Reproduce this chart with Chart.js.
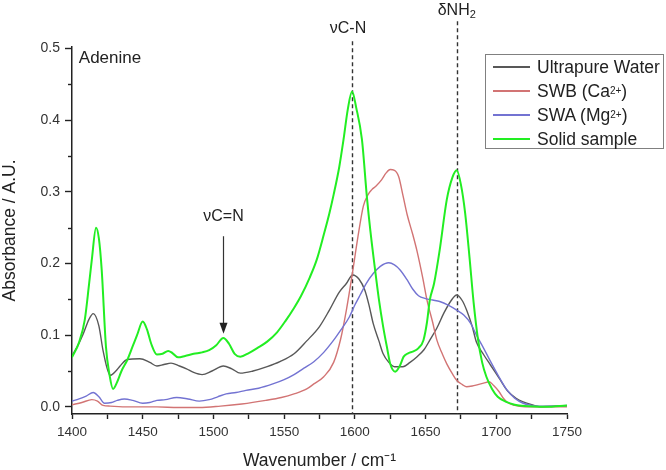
<!DOCTYPE html>
<html>
<head>
<meta charset="utf-8">
<script src="https://cdn.jsdelivr.net/npm/chart.js@4.4.1/dist/chart.umd.min.js"></script>
<style>
  html, body { margin: 0; padding: 0; background: #fff; }
  #wrap { position: relative; width: 666px; height: 470px; }
  #legend {
    position: absolute; left: 485px; top: 54px; width: 179px; height: 95px;
    box-sizing: border-box; border: 1px solid #808080; padding-top: 0;
    font-family: 'Liberation Sans', Arial, sans-serif; font-size: 17.5px; color: #222;
  }
  #legend .row { height: 24px; line-height: 24px; white-space: nowrap; display: flex; align-items: center; }
  #legend .swatch { display: inline-block; width: 37px; margin: 0 7px 0 7px; }
  #legend sup { font-size: 10px; vertical-align: 7px; line-height: 0; }
</style>
</head>
<body>
<div id="wrap">
  <canvas id="chart" width="666" height="470"></canvas>
  <div id="legend"></div>
</div>
<script>
// ---------- Data ----------
const waterX = [1400,1404,1408,1412,1415,1419,1422,1427,1431,1434,1439,1448,1455,1460,1465,1470,1476,1481,1486,1492,1499,1507,1513,1519,1528,1538,1547,1557,1566,1575,1582,1589,1594,1598.5,1603,1607,1610,1613,1617,1620,1624,1628,1634,1639,1644,1649,1653,1658,1663,1668,1672,1676,1679,1683,1686,1691,1696,1702,1708,1714,1719,1725,1731,1740,1750];
const waterY = [0.071,0.085,0.102,0.122,0.130,0.113,0.078,0.044,0.050,0.057,0.066,0.067,0.062,0.057,0.059,0.061,0.057,0.053,0.048,0.045,0.050,0.057,0.053,0.047,0.050,0.056,0.063,0.074,0.092,0.112,0.135,0.160,0.172,0.184,0.178,0.163,0.142,0.116,0.092,0.074,0.062,0.056,0.056,0.062,0.070,0.080,0.093,0.110,0.131,0.148,0.156,0.148,0.135,0.112,0.090,0.073,0.058,0.040,0.022,0.012,0.007,0.003,0.000,0.001,0.001];

const swbX = [1400,1407,1414,1418,1422,1427,1440,1460,1475,1490,1505,1520,1537,1548,1557,1566,1571,1578,1585,1590,1594,1598,1602,1606,1609,1612,1615,1619,1622,1625,1628,1631,1634,1637,1641,1644,1648,1651,1655,1658,1662,1665,1669,1672,1676,1679,1683,1687,1691,1695,1698,1702,1705,1708,1713,1720,1735,1750];
const swbY = [0.003,0.006,0.010,0.008,0.002,0.001,0.000,0.000,-0.001,-0.001,0.001,0.004,0.009,0.013,0.018,0.025,0.032,0.042,0.062,0.095,0.135,0.183,0.235,0.280,0.295,0.303,0.308,0.317,0.326,0.331,0.330,0.321,0.295,0.268,0.240,0.217,0.180,0.149,0.118,0.093,0.073,0.060,0.046,0.037,0.031,0.028,0.029,0.031,0.033,0.035,0.030,0.021,0.012,0.006,0.002,0.000,0.000,0.000];

const swaX = [1400,1405,1410,1415,1419,1423,1428,1432,1437,1443,1450,1455,1460,1466,1474,1482,1490,1497,1503,1509,1516,1523,1532,1542,1550,1557,1564,1571,1578,1585,1590,1596,1600,1604,1608,1613,1618,1624,1628,1632,1637,1641,1645,1650,1655,1660,1666,1672,1677,1682,1686,1691,1696,1701,1707,1713,1719,1725,1731,1740,1750];
const swaY = [0.008,0.011,0.015,0.020,0.014,0.005,0.006,0.009,0.011,0.009,0.005,0.006,0.009,0.010,0.013,0.011,0.008,0.010,0.014,0.018,0.020,0.023,0.026,0.032,0.038,0.045,0.054,0.063,0.076,0.093,0.107,0.125,0.142,0.157,0.172,0.186,0.196,0.201,0.198,0.191,0.177,0.164,0.155,0.151,0.149,0.147,0.142,0.135,0.128,0.116,0.100,0.082,0.063,0.045,0.025,0.012,0.005,0.002,0.001,0.001,0.002];

const solidX = [1400,1405,1409,1412,1414,1417,1419,1421,1424,1426.5,1429,1432,1435,1439,1443,1446,1450,1453,1456,1460,1464,1468,1471,1475,1480,1486,1492,1497,1502,1507,1511,1515,1519,1525,1531,1538,1545,1551,1557,1562,1568,1573,1578,1582,1585,1589,1592,1595,1598,1601,1605,1608.5,1611,1614,1617,1620,1623,1625,1628.5,1632,1634.5,1638,1641,1645,1648.5,1651,1653,1656,1660,1665,1669,1672,1675,1678,1681,1684,1687,1690,1693,1697,1701,1707,1713,1720,1735,1750];
const solidY = [0.069,0.090,0.121,0.170,0.205,0.250,0.235,0.191,0.084,0.045,0.025,0.035,0.050,0.065,0.085,0.100,0.119,0.108,0.088,0.073,0.074,0.078,0.075,0.069,0.071,0.074,0.076,0.079,0.086,0.096,0.088,0.074,0.070,0.075,0.082,0.091,0.104,0.120,0.138,0.155,0.180,0.205,0.240,0.270,0.296,0.335,0.373,0.415,0.440,0.417,0.373,0.293,0.245,0.196,0.150,0.112,0.080,0.060,0.049,0.058,0.070,0.075,0.077,0.082,0.093,0.118,0.149,0.172,0.219,0.289,0.320,0.330,0.310,0.270,0.210,0.145,0.095,0.062,0.042,0.025,0.014,0.007,0.003,0.001,0.000,0.002];

const seriesNames = ['Ultrapure Water', 'SWB (Ca<sup>2+</sup>)', 'SWA (Mg<sup>2+</sup>)', 'Solid sample'];
const seriesLabels = ['Ultrapure Water', 'SWB (Ca2+)', 'SWA (Mg2+)', 'Solid sample'];
const seriesColors = ['#585858', '#d27474', '#7373d2', '#22ee22'];
const seriesWidths = [1.4, 1.4, 1.4, 2];

// peak markers (wavenumber, top of dashed line in absorbance units)
const peakPos = [1598, 1672];
const peakTop = [0.510, 0.538];

const FONT = "'Liberation Sans', Arial, sans-serif";
const INK = '#222';

// ---------- Helpers ----------
const $ = id => document.getElementById(id);
const toPoints = (xs, ys) => xs.map((x, i) => ({ x, y: ys[i] }));

function buildLegend() {
  $('legend').innerHTML = seriesNames.map((name, i) =>
    `<div class="row"><span class="swatch" style="background:${seriesColors[i]};height:${i === 3 ? 2 : 1.5}px"></span>${name}</div>`
  ).join('');
}

// ---------- Annotation plugin: dashed peak lines, labels, arrow, minor y ticks ----------
const annotations = {
  id: 'annotations',
  beforeDatasetsDraw(chart) {
    const { ctx, scales: { x, y }, chartArea } = chart;
    ctx.save();
    ctx.strokeStyle = '#333';
    ctx.lineWidth = 1.4;
    ctx.setLineDash([4, 3]);
    peakPos.forEach((p, i) => {
      const px = Math.round(x.getPixelForValue(p)) + 0.5;
      ctx.beginPath();
      ctx.moveTo(px, y.getPixelForValue(peakTop[i]));
      ctx.lineTo(px, chartArea.bottom);
      ctx.stroke();
    });
    ctx.restore();
  },
  afterDraw(chart) {
    const { ctx, scales: { x, y } } = chart;
    ctx.save();
    ctx.fillStyle = INK;
    ctx.textBaseline = 'middle';

    // sample name
    ctx.font = `17px ${FONT}`;
    ctx.textAlign = 'left';
    ctx.fillText('Adenine', x.getPixelForValue(1404.8), y.getPixelForValue(0.486));

    // νC-N over first dashed line
    ctx.font = `16px ${FONT}`;
    ctx.textAlign = 'center';
    ctx.fillText('\u03BDC-N', x.getPixelForValue(peakPos[0]) - 4, y.getPixelForValue(0.527));

    // δNH2 over second dashed line, subscript drawn separately
    const dx = x.getPixelForValue(peakPos[1]);
    const dy = y.getPixelForValue(0.553);
    const main = '\u03B4NH';
    const w = ctx.measureText(main).width;
    ctx.textAlign = 'left';
    ctx.fillText(main, dx - (w + 6) / 2, dy);
    ctx.font = `11px ${FONT}`;
    ctx.fillText('2', dx - (w + 6) / 2 + w, dy + 5);

    // νC=N with arrow down to the band
    const ax = Math.round(x.getPixelForValue(1507)) + 0.5;
    ctx.font = `16px ${FONT}`;
    ctx.textAlign = 'center';
    ctx.fillText('\u03BDC=N', ax, y.getPixelForValue(0.266));
    const a0 = y.getPixelForValue(0.238), a1 = y.getPixelForValue(0.102);
    ctx.strokeStyle = '#333';
    ctx.lineWidth = 1.2;
    ctx.beginPath();
    ctx.moveTo(ax, a0);
    ctx.lineTo(ax, a1 - 8);
    ctx.stroke();
    ctx.beginPath();
    ctx.moveTo(ax, a1);
    ctx.lineTo(ax - 4, a1 - 11);
    ctx.lineTo(ax + 4, a1 - 11);
    ctx.closePath();
    ctx.fillStyle = '#222';
    ctx.fill();

    // minor ticks on the absorbance axis
    ctx.strokeStyle = INK;
    ctx.lineWidth = 1.4;
    for (let v = 0.05; v < 0.5; v += 0.1) {
      const py = Math.round(y.getPixelForValue(v)) + 0.5;
      ctx.beginPath();
      ctx.moveTo(y.right - 4, py);
      ctx.lineTo(y.right, py);
      ctx.stroke();
    }
    ctx.restore();
  }
};

// ---------- Chart ----------
const xs = [waterX, swbX, swaX, solidX];
const ys = [waterY, swbY, swaY, solidY];
const drawOrder = [3, 2, 1, 0];

const chart = new Chart($('chart').getContext('2d'), {
  type: 'line',
  data: {
    datasets: seriesLabels.map((label, i) => ({
      label,
      data: toPoints(xs[i], ys[i]),
      borderColor: seriesColors[i],
      borderWidth: seriesWidths[i],
      pointRadius: 0,
      fill: false,
      cubicInterpolationMode: 'monotone',
      order: drawOrder[i]
    }))
  },
  options: {
    responsive: false,
    animation: false,
    events: [],
    layout: { padding: { top: 47, right: 99, left: 0, bottom: 0 } },
    plugins: { legend: { display: false }, tooltip: { enabled: false } },
    scales: {
      x: {
        type: 'linear',
        min: 1400, max: 1750,
        afterFit: s => { s.height = 56; },
        border: { display: true, color: INK, width: 1.5 },
        grid: { drawOnChartArea: false, tickLength: 5, tickColor: INK, tickWidth: 1.4 },
        ticks: {
          stepSize: 25, autoSkip: false, maxRotation: 0, padding: 5,
          color: '#333', font: { family: FONT, size: 13.5 },
          callback: v => (v % 50 === 0 ? String(v) : '')
        },
        title: {
          display: true, text: 'Wavenumber / cm\u207B\u00B9', color: INK,
          font: { family: FONT, size: 17.5, lineHeight: 1 }, padding: { top: 0, bottom: 0 }
        }
      },
      y: {
        min: -0.01, max: 0.502,
        afterFit: s => { s.width = 72; },
        border: { display: true, color: INK, width: 1.5 },
        grid: { drawOnChartArea: false, tickLength: 7, tickColor: INK, tickWidth: 1.4 },
        ticks: {
          stepSize: 0.1, includeBounds: false, padding: 5,
          color: '#333', font: { family: FONT, size: 14 },
          callback: v => v.toFixed(1)
        },
        title: {
          display: true, text: 'Absorbance / A.U.', color: INK,
          font: { family: FONT, size: 17.5, lineHeight: 1 }, padding: { top: 1.5, bottom: 0 }
        }
      }
    }
  },
  plugins: [annotations]
});

buildLegend();
</script>
</body>
</html>
